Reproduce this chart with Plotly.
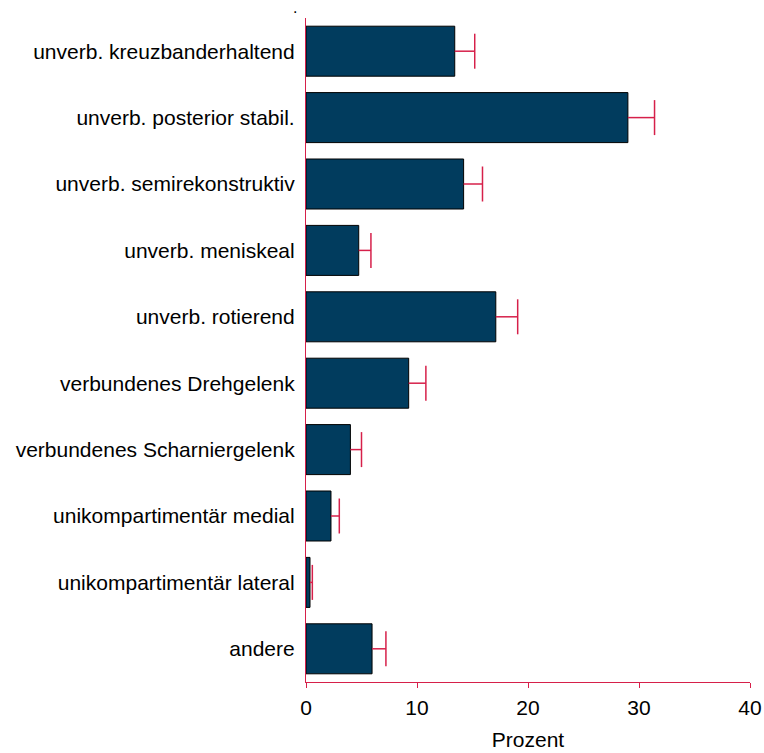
import plotly.graph_objects as go

# Prozentanteile je Prothesentyp (mit oberem Fehlerbalken)
categories = [
    "unverb. kreuzbanderhaltend",
    "unverb. posterior stabil.",
    "unverb. semirekonstruktiv",
    "unverb. meniskeal",
    "unverb. rotierend",
    "verbundenes Drehgelenk",
    "verbundenes Scharniergelenk",
    "unikompartimentär medial",
    "unikompartimentär lateral",
    "andere",
]
percent = [13.4, 29.0, 14.2, 4.75, 17.1, 9.25, 4.0, 2.25, 0.36, 5.95]
upper_ci = [15.2, 31.4, 15.9, 5.85, 19.07, 10.8, 5.0, 3.0, 0.57, 7.2]
x_ticks = [0, 10, 20, 30, 40]

err_plus = [u - p for u, p in zip(upper_ci, percent)]

BAR = "#013c5e"
RED = "#d6204a"
FONT = "Liberation Sans, Arial, sans-serif"

fig = go.Figure()

# Balken mit horizontalem Fehlerstrich (ohne Kappe am Balkenende)
fig.add_trace(
    go.Bar(
        x=percent,
        y=categories,
        orientation="h",
        marker=dict(color=BAR, line=dict(color="#000000", width=1)),
        error_x=dict(
            type="data",
            symmetric=False,
            array=err_plus,
            arrayminus=[0] * len(err_plus),
            color=RED,
            thickness=1.5,
            width=0,
        ),
    )
)

# Kappe nur am oberen Ende des Fehlerbalkens
fig.add_trace(
    go.Scatter(
        x=upper_ci,
        y=categories,
        mode="markers",
        marker=dict(
            symbol="line-ns-open",
            size=25,
            color=RED,
            line=dict(color=RED, width=1.5),
        ),
        hoverinfo="skip",
    )
)

fig.update_layout(
    width=764,
    height=753,
    margin=dict(l=306, r=14, t=18, b=71),
    paper_bgcolor="white",
    plot_bgcolor="white",
    bargap=0.247,
    showlegend=False,
    font=dict(family=FONT, size=20, color="#000000"),
    annotations=[
        dict(
            text=".",
            xref="paper",
            yref="paper",
            x=-0.025,
            y=1.0,
            xanchor="center",
            yanchor="bottom",
            showarrow=False,
            font=dict(size=16, color="#000000"),
        )
    ],
)

fig.update_xaxes(
    range=[0, 40],
    tickvals=x_ticks,
    ticktext=[str(t) for t in x_ticks],
    ticks="outside",
    ticklen=5,
    tickwidth=1.2,
    tickcolor=RED,
    showline=True,
    linecolor=RED,
    linewidth=1.2,
    showgrid=False,
    zeroline=False,
    automargin=False,
    tickfont=dict(size=21),
    ticklabelstandoff=2,
    title=dict(text="Prozent", font=dict(size=21), standoff=14),
)

fig.update_yaxes(
    categoryorder="array",
    categoryarray=categories,
    range=[len(categories) - 0.5, -0.5],
    showline=True,
    linecolor=RED,
    linewidth=1.2,
    ticks="",
    showgrid=False,
    zeroline=False,
    automargin=False,
    tickfont=dict(size=21),
    ticklabelstandoff=6,
)

fig.write_html("out.html")
